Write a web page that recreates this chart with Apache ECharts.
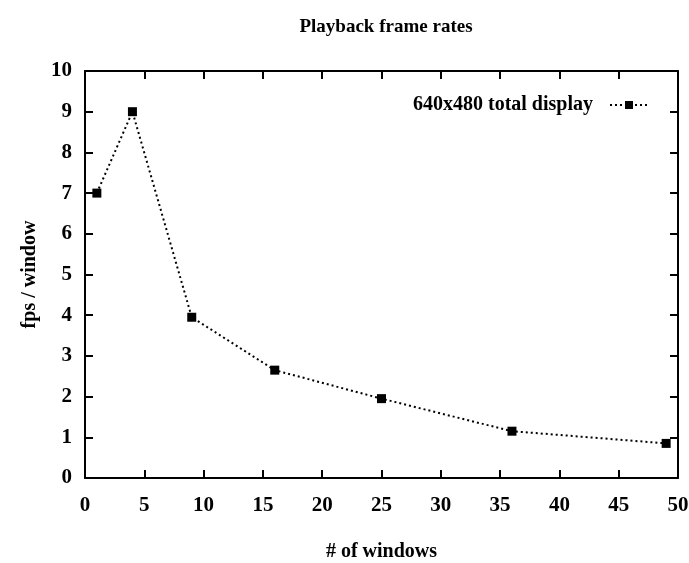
<!DOCTYPE html>
<html><head><meta charset="utf-8">
<script src="https://cdn.jsdelivr.net/npm/echarts@6/dist/echarts.min.js"></script>
<style>html,body{margin:0;padding:0;background:#fff}#c{width:689px;height:563px}</style>
</head><body><div id="c"></div>
<script>
const windows = [1, 4, 9, 16, 25, 36, 49];
const fps = [7.0, 9.0, 3.95, 2.65, 1.95, 1.15, 0.85];
const seriesName = '640x480 total display';
const xTicks = [0, 5, 10, 15, 20, 25, 30, 35, 40, 45, 50];
const yTicks = [0, 1, 2, 3, 4, 5, 6, 7, 8, 9, 10];

const font = 'Liberation Serif';
const chart = echarts.init(document.getElementById('c'));
const axisCommon = {
  axisLine: { show: true, onZero: false, lineStyle: { color: '#000', width: 2 } },
  axisTick: { show: true, inside: true, length: 8, lineStyle: { color: '#000', width: 2 } },
  splitLine: { show: false }
};
chart.setOption({
  animation: false,
  title: {
    text: 'Playback frame rates', left: 381, top: 13, textAlign: 'center',
    textStyle: { fontFamily: font, fontWeight: 'bold', fontSize: 19, color: '#000' }
  },
  legend: {
    right: 35, top: 90, align: 'right', itemWidth: 38, itemHeight: 10,
    data: [seriesName],
    textStyle: { fontFamily: font, fontWeight: 'bold', fontSize: 20, color: '#000', padding: [0, 12, 0, 0] }
  },
  grid: { left: 85, right: 11, top: 71, bottom: 85, containLabel: false, outerBoundsMode: 'none' },
  xAxis: [
    Object.assign({}, axisCommon, {
      type: 'value', min: xTicks[0], max: xTicks[xTicks.length - 1], interval: 5,
      name: '# of windows', nameLocation: 'middle', nameGap: 64,
      nameTextStyle: { fontFamily: font, fontWeight: 'bold', fontSize: 20, color: '#000' },
      axisLabel: { fontFamily: font, fontWeight: 'bold', fontSize: 21, color: '#000', margin: 17 }
    }),
    Object.assign({}, axisCommon, {
      type: 'value', position: 'top', min: xTicks[0], max: xTicks[xTicks.length - 1], interval: 5,
      axisLabel: { show: false }
    })
  ],
  yAxis: [
    Object.assign({}, axisCommon, {
      type: 'value', min: yTicks[0], max: yTicks[yTicks.length - 1], interval: 1,
      name: 'fps / window', nameLocation: 'middle', nameGap: 36,
      nameTextStyle: { fontFamily: font, fontWeight: 'bold', fontSize: 20, color: '#000' },
      axisLabel: { fontFamily: font, fontWeight: 'bold', fontSize: 21, color: '#000', margin: 13 }
    }),
    Object.assign({}, axisCommon, {
      type: 'value', position: 'right', min: yTicks[0], max: yTicks[yTicks.length - 1], interval: 1,
      axisLabel: { show: false }
    })
  ],
  series: [{
    name: seriesName, type: 'line',
    data: windows.map((w, i) => [w, fps[i]]),
    symbol: 'rect', symbolSize: 9,
    itemStyle: { color: '#000' },
    lineStyle: { color: '#000', width: 2, type: [2, 3] }
  }]
});
</script></body></html>
